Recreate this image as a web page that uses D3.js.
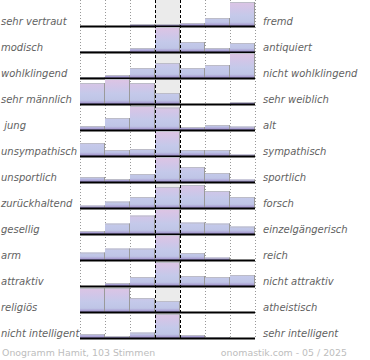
<!DOCTYPE html>
<html><head><meta charset="utf-8">
<script src="https://cdn.jsdelivr.net/npm/d3@7"></script>
<style>body{margin:0;background:#fff}svg{display:block}</style>
</head><body>
<script>
const leftLabels = ["sehr vertraut","modisch","wohlklingend","sehr männlich"," jung","unsympathisch","unsportlich","zurückhaltend","gesellig","arm","attraktiv","religiös","nicht intelligent"];
const rightLabels = ["fremd","antiquiert","nicht wohlklingend","sehr weiblich","alt","sympathisch","sportlich","forsch","einzelgängerisch","reich","nicht attraktiv","atheistisch","sehr intelligent"];
const steps = [1,2,3,4,5,6,7];
// bar heights, percent of the tallest possible bar
const values = [
  [0,0,8,8,12,32,96],
  [4,4,16,100,40,16,36],
  [4,12,40,60,40,52,100],
  [84,100,84,44,0,0,8],
  [16,48,96,90,12,20,14],
  [52,24,28,100,24,24,6],
  [20,12,32,100,60,36,10],
  [10,26,44,84,92,68,44],
  [12,42,74,100,46,42,30],
  [30,46,46,100,28,10,0],
  [0,12,36,96,40,36,44],
  [96,96,56,44,0,0,0],
  [16,8,22,96,12,4,0]
];
const footerLeft = "Onogramm Hamit, 103 Stimmen";
const footerRight = "onomastik.com - 05 / 2025";

const W = 370, H = 360;
const svg = d3.select("body").append("svg").attr("width", W).attr("height", H);

const x = d3.scaleBand().domain(steps).range([80, 255]).padding(0);
const rowIdx = d3.range(leftLabels.length);
const y = d3.scaleBand().domain(rowIdx).range([0, 26 * leftLabels.length]).padding(0);
const rowH = 25;
const h = d3.scaleLinear().domain([0, 100]).range([0, rowH]);

const defs = svg.append("defs");
const grad = defs.append("linearGradient").attr("id", "bg")
  .attr("gradientUnits", "userSpaceOnUse").attr("x1", 0).attr("x2", 0).attr("y1", 0).attr("y2", rowH);
[[0, "#dec4e4"], [0.35, "#cfc6e8"], [0.6, "#c4c9ea"], [0.85, "#bfc5e6"], [0.93, "#aea6d6"], [1, "#9385c2"]]
  .forEach(([o, c]) => grad.append("stop").attr("offset", o).attr("stop-color", c));

const plotBottom = 338;
svg.append("rect").attr("x", x(4)).attr("y", 0).attr("width", x.bandwidth()).attr("height", plotBottom).attr("fill", "#ebebeb");

const edges = [x(1), x(2), x(3), x(6), x(7), x(7) + x.bandwidth()];
svg.selectAll("line.dot").data(edges).join("line")
  .attr("x1", d => d + 0.5).attr("x2", d => d + 0.5).attr("y1", 0).attr("y2", plotBottom)
  .attr("stroke", "#999").attr("stroke-width", 1).attr("stroke-dasharray", "1,2");

const rows = svg.selectAll("g.row").data(rowIdx).join("g")
  .attr("transform", i => `translate(0,${y(i) + 26 - rowH})`);

rows.each(function(i) {
  const g = d3.select(this);
  const data = values[i].map((v, k) => ({ k: steps[k], v }));
  const nz = data.filter(d => d.v > 0);
  g.selectAll("rect.bar").data(nz).join("rect")
    .attr("x", d => x(d.k)).attr("width", x.bandwidth())
    .attr("y", d => rowH - h(d.v)).attr("height", d => h(d.v))
    .attr("fill", "url(#bg)");
  g.selectAll("line.top").data(nz).join("line")
    .attr("x1", d => x(d.k)).attr("x2", d => x(d.k) + x.bandwidth())
    .attr("y1", d => rowH - h(d.v) + 0.5).attr("y2", d => rowH - h(d.v) + 0.5)
    .attr("stroke", "#bcbcc8").attr("stroke-width", 1);
  g.selectAll("line.edge").data(nz).join("line")
    .attr("x1", d => x(d.k) + x.bandwidth() - 0.5).attr("x2", d => x(d.k) + x.bandwidth() - 0.5)
    .attr("y1", d => rowH - h(d.v)).attr("y2", rowH)
    .attr("stroke", "#9a9a9a").attr("stroke-width", 1);
  g.append("line").attr("x1", x(1)).attr("x2", x(7) + x.bandwidth())
    .attr("y1", rowH + 0.5).attr("y2", rowH + 0.5).attr("stroke", "#000").attr("stroke-width", 2);
  g.append("text").attr("x", 1).attr("y", rowH - 1.5).text(leftLabels[i])
    .attr("font-family", "DejaVu Sans").attr("font-style", "italic").attr("font-size", 10)
    .attr("fill", "#626262").style("white-space", "pre");
  g.append("text").attr("x", 263).attr("y", rowH - 1.5).text(rightLabels[i])
    .attr("font-family", "DejaVu Sans").attr("font-style", "italic").attr("font-size", 10)
    .attr("fill", "#626262");
});

svg.selectAll("line.dash").data([x(4), x(5)]).join("line")
  .attr("x1", d => d + 0.5).attr("x2", d => d + 0.5).attr("y1", 0).attr("y2", plotBottom)
  .attr("stroke", "#000").attr("stroke-width", 1).attr("stroke-dasharray", "3,2");

svg.append("text").attr("x", 2).attr("y", 355.5).text(footerLeft)
  .attr("font-family", "DejaVu Sans").attr("font-size", 9.4).attr("fill", "#bdbdbd");
svg.append("text").attr("x", 347).attr("y", 355.5).attr("text-anchor", "end").text(footerRight)
  .attr("font-family", "DejaVu Sans").attr("font-size", 9.4).attr("fill", "#bdbdbd");
</script>
</body></html>
